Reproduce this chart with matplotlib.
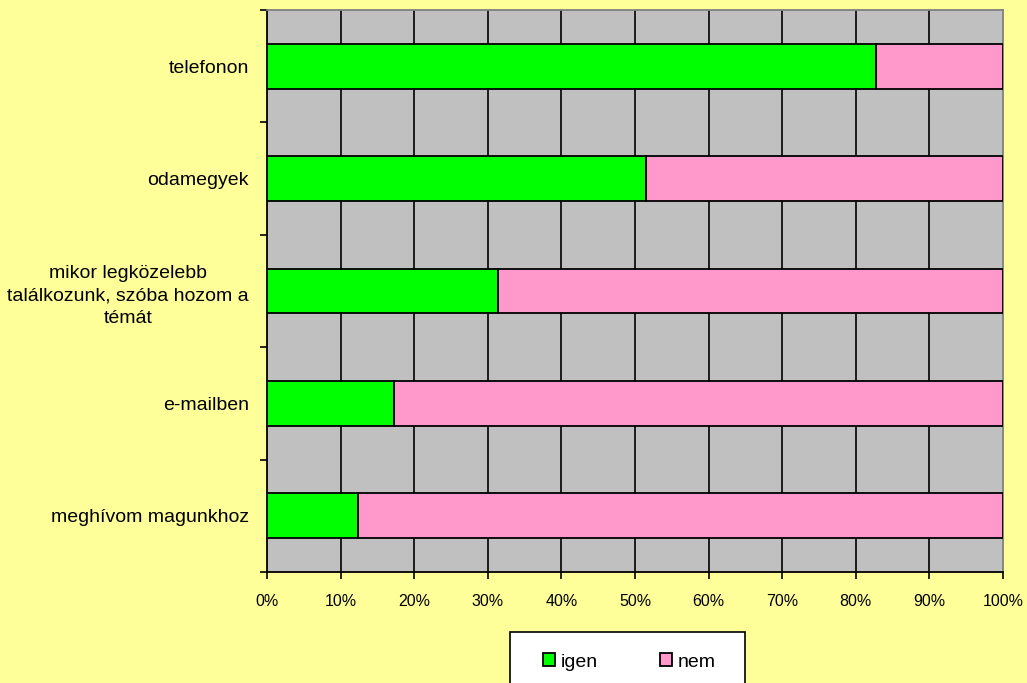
import matplotlib.pyplot as plt
import matplotlib.patches as mpatches
import numpy as np

plt.rcParams['font.family'] = ['Liberation Sans', 'DejaVu Sans']

# categories top to bottom
categories = ["telefonon", "odamegyek",
              "mikor legközelebb\ntalálkozunk, szóba hozom a\ntémát",
              "e-mailben", "meghívom magunkhoz"]
igen = [82.7, 51.5, 31.4, 17.3, 12.4]
nem = [100 - v for v in igen]
x_ticks = list(range(0, 101, 10))

W, H = 1027, 683
fig = plt.figure(figsize=(W / 100, H / 100), dpi=100)
fig.patch.set_facecolor('#FFFF99')
ax = fig.add_axes([267 / W, 1 - 572 / H, (1003 - 267) / W, (572 - 10) / H])
ax.set_facecolor('#C0C0C0')

y = np.arange(len(categories))
ax.barh(y, igen, height=0.4, color='#00FF00', edgecolor='black', linewidth=1.3, zorder=3, label='igen')
ax.barh(y, nem, left=igen, height=0.4, color='#FF99CC', edgecolor='black', linewidth=1.3, zorder=3, label='nem')

ax.set_xlim(0, 100)
ax.set_ylim(len(categories) - 0.5, -0.5)
ax.set_xticks(x_ticks)
ax.set_xticklabels([f"{t}%" for t in x_ticks], fontsize=11.5)
for t in x_ticks[1:-1]:
    ax.axvline(t, color='black', linewidth=1.2, zorder=1)

ax.set_yticks(np.arange(-0.5, len(categories), 1.0))
ax.set_yticklabels([])
ax.set_yticks(y, minor=True)
ax.set_yticklabels(categories, minor=True, fontsize=14, ha='right',
                   multialignment='center', linespacing=1.45)
ax.tick_params(axis='y', which='minor', length=0, pad=13)
ax.tick_params(axis='y', which='major', length=5, width=1.2)
ax.tick_params(axis='x', length=5, width=1.2, pad=11)

for side in ['left', 'bottom']:
    ax.spines[side].set_color('black')
    ax.spines[side].set_linewidth(1.3)
for side in ['top', 'right']:
    ax.spines[side].set_color('#808080')
    ax.spines[side].set_linewidth(1.3)

# legend box
fig.patches.append(mpatches.Rectangle((510 / W, 1 - 700 / H), 235 / W, 68 / H,
                                      transform=fig.transFigure, facecolor='white',
                                      edgecolor='black', linewidth=1.2, zorder=0))
handles, labels = ax.get_legend_handles_labels()
fig.legend(handles, labels, loc='center left', bbox_to_anchor=(543 / W, 1 - 662 / H),
           ncol=2, frameon=False, fontsize=14, handlelength=0.62, handleheight=0.62,
           handletextpad=0.3, columnspacing=3.2, borderpad=0, borderaxespad=0)

fig.savefig('out.png', dpi=100, facecolor=fig.get_facecolor())
